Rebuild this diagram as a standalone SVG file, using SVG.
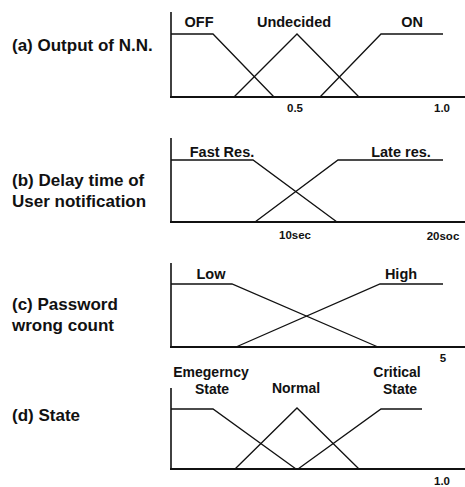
<svg xmlns="http://www.w3.org/2000/svg" width="465" height="487" viewBox="0 0 465 487">
<style>
text{font-family:"Liberation Sans",Arial,sans-serif;font-weight:bold;fill:#111}
.lbl{font-size:17px}
.set{font-size:14.5px;text-anchor:middle}
.set2{font-size:14px;text-anchor:middle}
.tick{font-size:11.5px;text-anchor:middle}
.ax{stroke:#111;stroke-width:1.6;fill:none}
.base{stroke:#111;stroke-width:2.2;fill:none}
.mf{stroke:#111;stroke-width:1.3;fill:none;stroke-linejoin:miter}
</style>
<rect width="465" height="487" fill="#fff"/>
<g id="panel-a">
<text class="lbl" x="12" y="51">(a) Output of N.N.</text>
<line class="ax" x1="171" y1="12" x2="171" y2="97"/>
<line class="base" x1="170" y1="97" x2="465" y2="97"/>
<polyline class="mf" points="171,34 213,34 274,97"/>
<polyline class="mf" points="234,97 297,34 359,97"/>
<polyline class="mf" points="320,97 381,34 443,34"/>
<text class="set" x="199" y="27">OFF</text>
<text class="set" x="294" y="27">Undecided</text>
<text class="set" x="412" y="27">ON</text>
<text class="tick" x="295" y="112">0.5</text>
<text class="tick" x="442" y="112">1.0</text>
</g>
<g id="panel-b">
<text class="lbl" x="12" y="186">(b) Delay time of</text>
<text class="lbl" x="12" y="207">User notification</text>
<line class="ax" x1="171" y1="138" x2="171" y2="222"/>
<line class="base" x1="170" y1="222" x2="465" y2="222"/>
<polyline class="mf" points="171,160 253,160 337,222"/>
<polyline class="mf" points="255,222 338,160 443,160"/>
<text class="set" x="222" y="157">Fast Res.</text>
<text class="set" x="401" y="157">Late res.</text>
<text class="tick" x="295" y="239">10sec</text>
<text class="tick" x="443" y="240">20soc</text>
</g>
<g id="panel-c">
<text class="lbl" x="12" y="310">(c) Password</text>
<text class="lbl" x="12" y="331">wrong count</text>
<line class="ax" x1="171" y1="263" x2="171" y2="347"/>
<line class="base" x1="170" y1="347" x2="465" y2="347"/>
<polyline class="mf" points="171,284 232,284 378,347"/>
<polyline class="mf" points="236,347 380,284 443,284"/>
<text class="set" x="211" y="279">Low</text>
<text class="set" x="401" y="279">High</text>
<text class="tick" x="443" y="362">5</text>
</g>
<g id="panel-d">
<text class="lbl" x="12" y="421">(d) State</text>
<line class="ax" x1="171" y1="388" x2="171" y2="469"/>
<line class="base" x1="170" y1="469" x2="465" y2="469"/>
<polyline class="mf" points="171,409 213,409 296,469"/>
<polyline class="mf" points="235,469 297,408 359,469"/>
<polyline class="mf" points="298,469 381,409 422,409"/>
<text class="set2" x="211" y="377">Emegerncy</text>
<text class="set2" x="212" y="394">State</text>
<text class="set2" x="296" y="393">Normal</text>
<text class="set2" x="397" y="377">Critical</text>
<text class="set2" x="400" y="394">State</text>
<text class="tick" x="442" y="485">1.0</text>
</g>
</svg>
